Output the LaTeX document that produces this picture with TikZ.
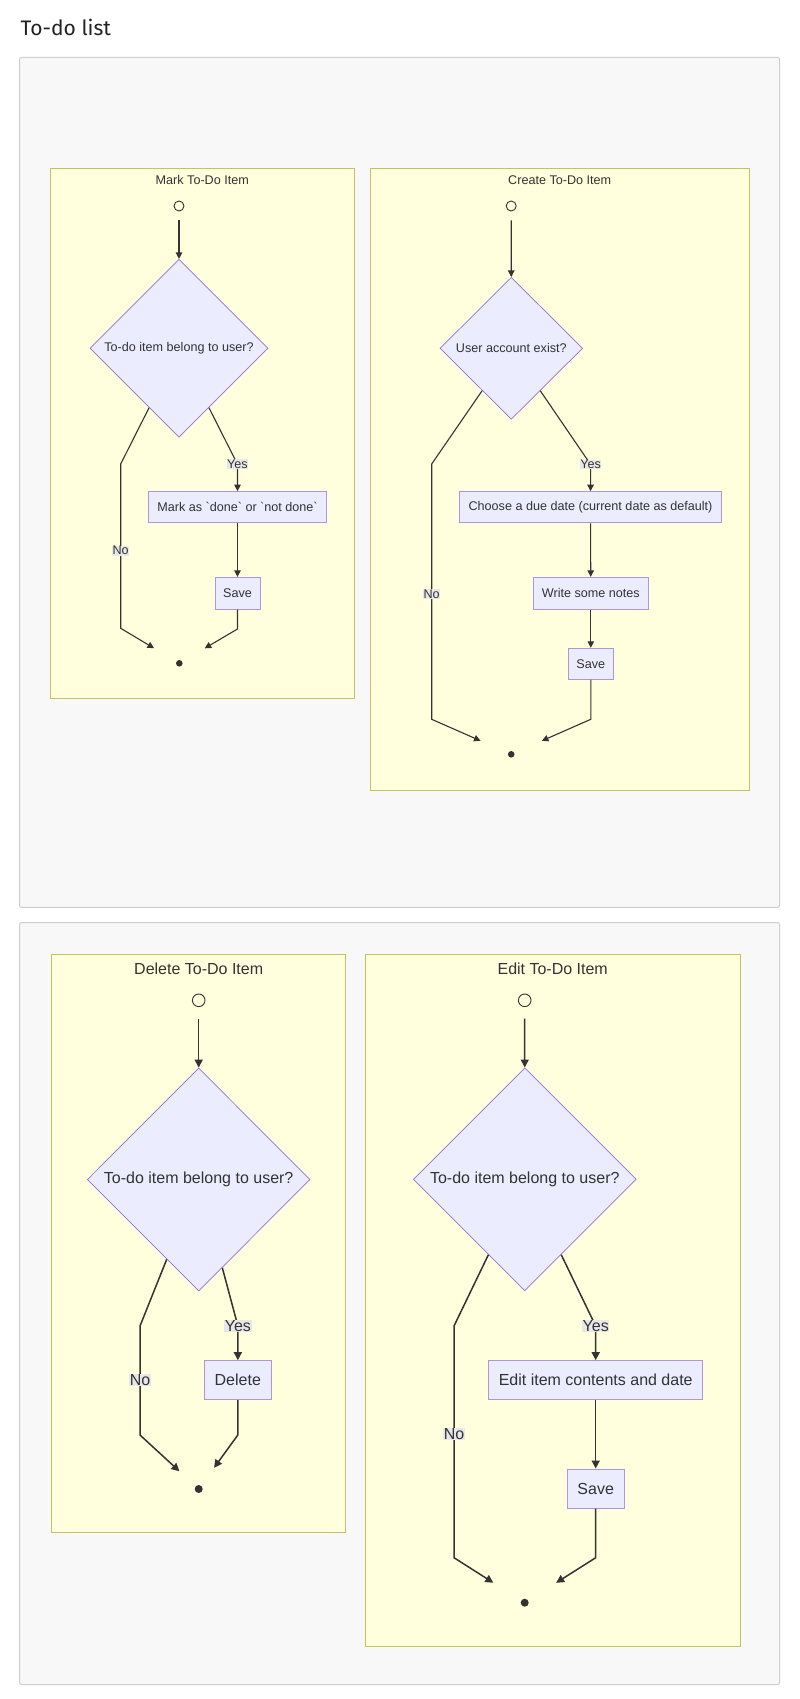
\documentclass[tikz,border=0pt]{standalone}
\usepackage{fontspec}
\setmainfont{Liberation Sans}
\newfontfamily\headfont{Fira Sans}
\usetikzlibrary{shapes.geometric,arrows.meta}

\definecolor{panelbg}{HTML}{F8F8F8}
\definecolor{panelline}{HTML}{CFCFCF}
\definecolor{clusterbg}{HTML}{FFFFDE}
\definecolor{clusterline}{HTML}{C4C45E}
\definecolor{nodebg}{HTML}{ECECFF}
\definecolor{nodeline}{HTML}{9370DB}
\definecolor{ink}{HTML}{333333}
\definecolor{lblbg}{HTML}{E8E8E8}

\newcommand\topfs{\fontsize{12.6pt}{15pt}\selectfont}
\newcommand\botfs{\fontsize{16pt}{19pt}\selectfont}

\tikzset{
  panel/.style={fill=panelbg, draw=panelline, line width=1pt, rounded corners=2pt},
  cluster/.style={fill=clusterbg, draw=clusterline, line width=1pt},
  clustertitle/.style={text=ink, inner sep=0pt},
  decision/.style={diamond, aspect=1, draw=nodeline, fill=nodebg, line width=0.7pt,
                   inner sep=0pt, text=ink},
  stepbox/.style={rectangle, draw=nodeline!75!white, fill=nodebg, line width=1pt,
                  inner sep=0pt, text=ink},
  startring/.style={circle, draw=ink, line width=0.9pt, fill=clusterbg, inner sep=0pt},
  enddot/.style={circle, fill=ink, inner sep=0pt},
  flowtop/.style={draw=ink, line width=1.1pt, -{Triangle[length=6.5pt,width=6.5pt]}},
  flowbot/.style={draw=ink, line width=1.5pt, -{Triangle[length=8pt,width=8pt]}},
  branch/.style={fill=lblbg, text=ink, inner sep=0.6pt},
}

\begin{document}
\begin{tikzpicture}[x=1pt,y=-1pt]
\useasboundingbox[fill=white] (0,0) rectangle (800,1699);

\node[anchor=base west, inner sep=0pt, text=black!87,
      font=\headfont\fontsize{21pt}{25pt}\selectfont] (title) at (20.5,36) {To-do list};

% outer panels
\draw[panel] (19.5,57.5) rectangle (779.5,907.3);
\draw[panel] (19.5,922.5) rectangle (779.5,1684.5);

% clusters
\draw[cluster] (50.3,168.7) rectangle (354.3,698.7);
\draw[cluster] (370.3,168.7) rectangle (749.3,790);
\draw[cluster] (51.7,954) rectangle (345.7,1532.3);
\draw[cluster] (365.3,954) rectangle (740,1646.7);

% ---------- Mark To-Do Item ----------
\begin{scope}[every node/.append style={font=\topfs}]
\node[clustertitle] (mT) at (202.3,180) {Mark To-Do Item};
\node[startring, minimum size=10pt] (mS) at (179,206) {};
\node[decision, minimum width=178pt, minimum height=178pt] (mQ) at (179,348.3) {To-do item belong to user?};
\node[stepbox, minimum width=178.4pt, minimum height=31.3pt] (mA) at (237.5,507.3)
  {Mark as \textasciigrave done\textasciigrave{} or \textasciigrave not done\textasciigrave};
\node[stepbox, minimum width=45pt, minimum height=31.7pt] (mB) at (237.5,593.2) {Save};
\node[enddot, minimum size=6.6pt] (mE) at (179.3,663.3) {};
\coordinate (mY) at (237.5,464.3);
\coordinate (mN1) at (120.7,464);
\coordinate (mN) at (120.7,550.7);
\coordinate (mN2) at (120.7,628.3);
\coordinate (mR) at (237.5,629);

\draw[flowtop, shorten <=9pt] (mS) -- (mQ);
\draw[flowtop] (mQ) -- (mY) -- (mA);
\draw[flowtop] (mA) -- (mB);
\draw[flowtop, shorten >=26pt] (mQ) -- (mN1) -- (mN2) -- (mE);
\draw[flowtop, shorten >=26pt] (mB) -- (mR) -- (mE);
\node[branch] (mYes) at (mY) {Yes};
\node[branch] (mNo) at (mN) {No};
\end{scope}

% ---------- Create To-Do Item ----------
\begin{scope}[every node/.append style={font=\topfs}]
\node[clustertitle] (cT) at (559.7,180) {Create To-Do Item};
\node[startring, minimum size=10pt] (cS) at (511.2,206) {};
\node[decision, minimum width=142.7pt, minimum height=142pt] (cQ) at (511.3,348.3) {User account exist?};
\node[stepbox, minimum width=262.4pt, minimum height=31.3pt] (cA) at (590.5,507.3)
  {Choose a due date (current date as default)};
\node[stepbox, minimum width=115pt, minimum height=31.7pt] (cB) at (590.8,593.2) {Write some notes};
\node[stepbox, minimum width=45pt, minimum height=31pt] (cC) at (590.8,663.8) {Save};
\node[enddot, minimum size=6.6pt] (cE) at (511.2,754.3) {};
\coordinate (cY) at (590.6,464.5);
\coordinate (cN1) at (431.7,464);
\coordinate (cN) at (431.7,594);
\coordinate (cN2) at (431.7,719.3);
\coordinate (cR) at (590.8,719.3);

\draw[flowtop, shorten <=9pt] (cS) -- (cQ);
\draw[flowtop] (cQ) -- (cY) -- (cA);
\draw[flowtop] (cA) -- (cB);
\draw[flowtop] (cB) -- (cC);
\draw[flowtop, shorten >=30pt] (cQ) -- (cN1) -- (cN2) -- (cE);
\draw[flowtop, shorten >=30pt] (cC) -- (cR) -- (cE);
\node[branch] (cYes) at (cY) {Yes};
\node[branch] (cNo) at (cN) {No};
\end{scope}

% ---------- Delete To-Do Item ----------
\begin{scope}[every node/.append style={font=\botfs}]
\node[clustertitle] (dT) at (198.7,968.3) {Delete To-Do Item};
\node[startring, minimum size=12.6pt] (dS) at (198.7,1000.3) {};
\node[decision, minimum width=222.7pt, minimum height=223pt] (dQ) at (198.7,1179.5) {To-do item belong to user?};
\node[stepbox, minimum width=67pt, minimum height=39pt] (dA) at (237.8,1380.2) {Delete};
\node[enddot, minimum size=8pt] (dE) at (198.7,1489) {};
\coordinate (dY) at (237.9,1326);
\coordinate (dN1) at (140,1326);
\coordinate (dN) at (140,1380);
\coordinate (dN2) at (140,1435);
\coordinate (dR) at (237.8,1435);

\draw[flowbot, shorten <=11.5pt] (dS) -- (dQ);
\draw[flowbot] (dQ) -- (dY) -- (dA);
\draw[flowbot, shorten >=22pt] (dQ) -- (dN1) -- (dN2) -- (dE);
\draw[flowbot, shorten >=22pt] (dA) -- (dR) -- (dE);
\node[branch] (dYes) at (dY) {Yes};
\node[branch] (dNo) at (dN) {No};
\end{scope}

% ---------- Edit To-Do Item ----------
\begin{scope}[every node/.append style={font=\botfs}]
\node[clustertitle] (eT) at (552.7,968.3) {Edit To-Do Item};
\node[startring, minimum size=12.6pt] (eS) at (524.7,1000.3) {};
\node[decision, minimum width=223pt, minimum height=223pt] (eQ) at (524.8,1179.3) {To-do item belong to user?};
\node[stepbox, minimum width=214pt, minimum height=39pt] (eA) at (595.7,1380.2) {Edit item contents and date};
\node[stepbox, minimum width=56.7pt, minimum height=39pt] (eB) at (595.7,1488.5) {Save};
\node[enddot, minimum size=8pt] (eE) at (524.7,1602.7) {};
\coordinate (eY) at (595.7,1326);
\coordinate (eN1) at (454,1326);
\coordinate (eN) at (454,1434.3);
\coordinate (eN2) at (454,1557.7);
\coordinate (eR) at (595.7,1557.7);

\draw[flowbot, shorten <=11.5pt] (eS) -- (eQ);
\draw[flowbot] (eQ) -- (eY) -- (eA);
\draw[flowbot] (eA) -- (eB);
\draw[flowbot, shorten >=33pt] (eQ) -- (eN1) -- (eN2) -- (eE);
\draw[flowbot, shorten >=33pt] (eB) -- (eR) -- (eE);
\node[branch] (eYes) at (eY) {Yes};
\node[branch] (eNo) at (eN) {No};
\end{scope}
\end{tikzpicture}
\end{document}
